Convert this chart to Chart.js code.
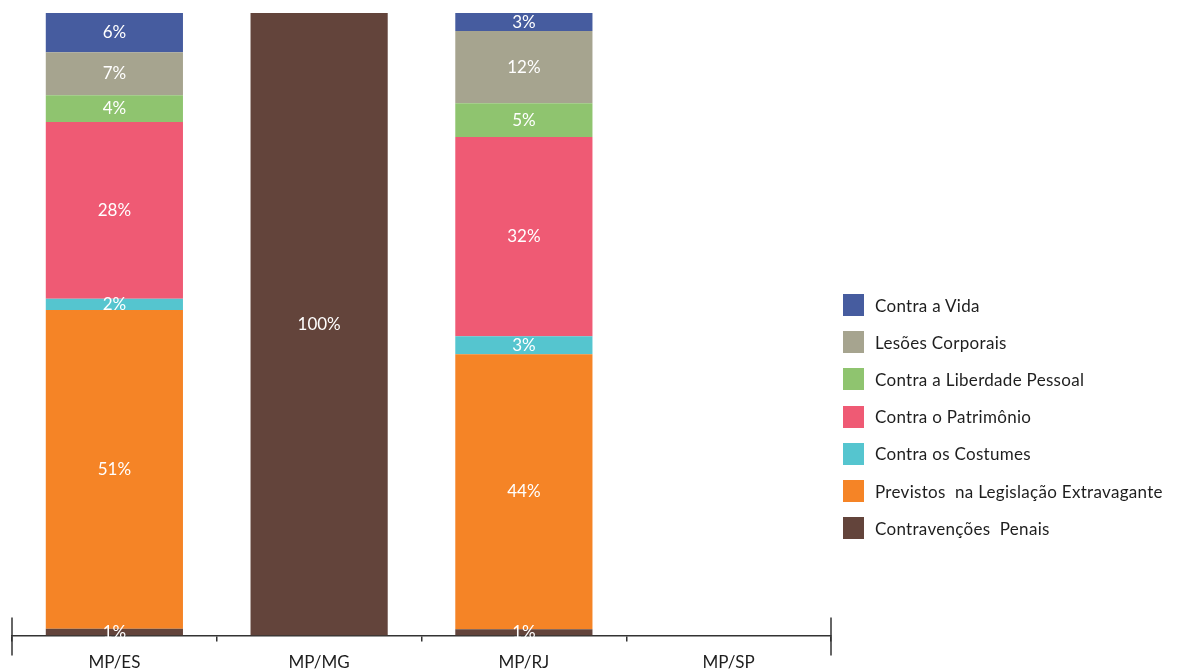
<!DOCTYPE html>
<html>
<head>
<meta charset="utf-8">
<script src="https://cdn.jsdelivr.net/npm/chart.js@4.4.1/dist/chart.umd.min.js"></script>
<style>
  html, body { margin: 0; padding: 0; background: #fff; }
  #wrap { position: relative; width: 1181px; height: 672px; }
  #legend { position: absolute; left: 843px; top: 294px; font-family: Lato, "Open Sans", sans-serif; font-size: 17px; color: #1e1e1e; }
  #legend .row { display: flex; align-items: center; height: 37.2px; }
  #legend .box { width: 21px; height: 22px; margin-right: 11px; margin-top: -15px; }
  #legend .txt { margin-top: -15px; letter-spacing: 0.3px; white-space: pre; }
</style>
</head>
<body>
<div id="wrap">
  <canvas id="chart"></canvas>
  <div id="legend"></div>
</div>
<script>
const categories = ['MP/ES', 'MP/MG', 'MP/RJ', 'MP/SP'];

// valores em %, da base para o topo
const contravencoes = [1.1, 100, 1.0, null];
const previstos     = [51.2, null, 44.2, null];
const costumes      = [1.8, null, 2.9, null];
const patrimonio    = [28.4, null, 32.0, null];
const liberdade     = [4.3, null, 5.4, null];
const lesoes        = [6.9, null, 11.6, null];
const vida          = [6.3, null, 2.9, null];

const seriesNames = ['Contravenções  Penais', 'Previstos  na Legislação Extravagante', 'Contra os Costumes',
  'Contra o Patrimônio', 'Contra a Liberdade Pessoal', 'Lesões Corporais', 'Contra a Vida'];
const seriesColors = ['#63443b', '#f58426', '#55c5cf', '#ef5a74', '#8fc46f', '#a6a48f', '#465c9f'];
const seriesData = [contravencoes, previstos, costumes, patrimonio, liberdade, lesoes, vida];

const datasets = seriesData.map((d, i) => ({
  label: seriesNames[i],
  data: d,
  backgroundColor: seriesColors[i],
  borderWidth: 0,
  categoryPercentage: 1,
  barPercentage: 0.67
}));

// rótulos brancos no centro de cada segmento
const barLabels = {
  id: 'barLabels',
  afterDatasetsDraw(chart) {
    const ctx = chart.ctx;
    ctx.save();
    ctx.fillStyle = '#ffffff';
    ctx.font = '17px Lato, "Open Sans", sans-serif';
    ctx.textAlign = 'center';
    ctx.textBaseline = 'middle';
    chart.data.datasets.forEach((ds, i) => {
      chart.getDatasetMeta(i).data.forEach((el, j) => {
        const v = ds.data[j];
        if (v == null) return;
        ctx.fillText(Math.round(v) + '%', el.x, (el.y + el.base) / 2);
      });
    });
    ctx.restore();
  }
};

// traços longos nas extremidades do eixo
const axisEnds = {
  id: 'axisEnds',
  afterDraw(chart) {
    const a = chart.chartArea;
    const ctx = chart.ctx;
    ctx.save();
    ctx.strokeStyle = '#333';
    ctx.lineWidth = 1.5;
    [a.left, a.right].forEach(x => {
      ctx.beginPath();
      ctx.moveTo(x, a.bottom - 18);
      ctx.lineTo(x, a.bottom + 20);
      ctx.stroke();
    });
    ctx.restore();
  }
};

new Chart(document.getElementById('chart'), {
  type: 'bar',
  data: { labels: categories, datasets: datasets },
  options: {
    responsive: true,
    maintainAspectRatio: false,
    animation: false,
    layout: { padding: { left: 12, right: 350, top: 13, bottom: -12 } },
    plugins: {
      legend: { display: false },
      tooltip: { enabled: false }
    },
    scales: {
      x: {
        stacked: true,
        offset: true,
        border: { color: '#333', width: 1.5 },
        grid: { offset: true, drawOnChartArea: false, color: '#333', lineWidth: 1.5, tickLength: 6 },
        ticks: { color: '#1e1e1e', padding: 11, font: { family: 'Lato, "Open Sans", sans-serif', size: 17 } }
      },
      y: {
        stacked: true,
        display: false,
        min: 0,
        max: 100
      }
    }
  },
  plugins: [barLabels, axisEnds]
});

const legend = document.getElementById('legend');
for (let i = seriesNames.length - 1; i >= 0; i--) {
  const row = document.createElement('div');
  row.className = 'row';
  row.innerHTML = '<div class="box" style="background:' + seriesColors[i] + '"></div><div class="txt">' + seriesNames[i] + '</div>';
  legend.appendChild(row);
}
</script>
</body>
</html>
